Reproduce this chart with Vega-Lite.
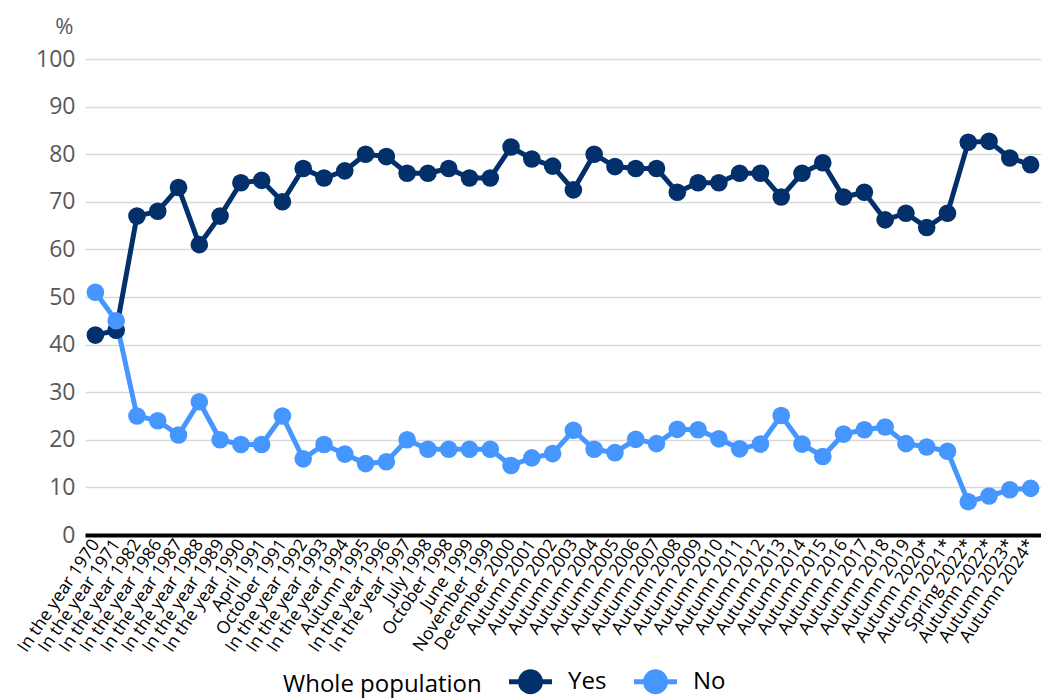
{
  "$schema": "https://vega.github.io/schema/vega-lite/v6.json",
  "width": 956,
  "height": 476,
  "autosize": {"type": "none"},
  "padding": {"left": 85, "top": 59, "right": 0, "bottom": 165},
  "background": "white",
  "config": {
    "font": "Open Sans",
    "view": {"stroke": null}
  },
  "data": {
    "values": [
      {"period": "In the year 1970", "answer": "Yes", "value": 42},
      {"period": "In the year 1971", "answer": "Yes", "value": 43},
      {"period": "In the year 1982", "answer": "Yes", "value": 67},
      {"period": "In the year 1986", "answer": "Yes", "value": 68},
      {"period": "In the year 1987", "answer": "Yes", "value": 73},
      {"period": "In the year 1988", "answer": "Yes", "value": 61},
      {"period": "In the year 1989", "answer": "Yes", "value": 67},
      {"period": "In the year 1990", "answer": "Yes", "value": 74},
      {"period": "April 1991", "answer": "Yes", "value": 74.5},
      {"period": "October 1991", "answer": "Yes", "value": 70},
      {"period": "In the year 1992", "answer": "Yes", "value": 77},
      {"period": "In the year 1993", "answer": "Yes", "value": 75},
      {"period": "In the year 1994", "answer": "Yes", "value": 76.5},
      {"period": "Autumn 1995", "answer": "Yes", "value": 80},
      {"period": "In the year 1996", "answer": "Yes", "value": 79.5},
      {"period": "In the year 1997", "answer": "Yes", "value": 76},
      {"period": "July 1998", "answer": "Yes", "value": 76},
      {"period": "October 1998", "answer": "Yes", "value": 77},
      {"period": "June 1999", "answer": "Yes", "value": 75},
      {"period": "November 1999", "answer": "Yes", "value": 75},
      {"period": "December 2000", "answer": "Yes", "value": 81.5},
      {"period": "Autumn 2001", "answer": "Yes", "value": 79},
      {"period": "Autumn 2002", "answer": "Yes", "value": 77.5},
      {"period": "Autumn 2003", "answer": "Yes", "value": 72.5},
      {"period": "Autumn 2004", "answer": "Yes", "value": 80},
      {"period": "Autumn 2005", "answer": "Yes", "value": 77.4},
      {"period": "Autumn 2006", "answer": "Yes", "value": 77},
      {"period": "Autumn 2007", "answer": "Yes", "value": 77},
      {"period": "Autumn 2008", "answer": "Yes", "value": 72},
      {"period": "Autumn 2009", "answer": "Yes", "value": 74},
      {"period": "Autumn 2010", "answer": "Yes", "value": 74},
      {"period": "Autumn 2011", "answer": "Yes", "value": 76},
      {"period": "Autumn 2012", "answer": "Yes", "value": 76},
      {"period": "Autumn 2013", "answer": "Yes", "value": 71},
      {"period": "Autumn 2014", "answer": "Yes", "value": 76},
      {"period": "Autumn 2015", "answer": "Yes", "value": 78.2},
      {"period": "Autumn 2016", "answer": "Yes", "value": 71},
      {"period": "Autumn 2017", "answer": "Yes", "value": 72},
      {"period": "Autumn 2018", "answer": "Yes", "value": 66.2},
      {"period": "Autumn 2019", "answer": "Yes", "value": 67.6},
      {"period": "Autumn 2020*", "answer": "Yes", "value": 64.6},
      {"period": "Autumn 2021*", "answer": "Yes", "value": 67.6},
      {"period": "Spring 2022*", "answer": "Yes", "value": 82.5},
      {"period": "Autumn 2022*", "answer": "Yes", "value": 82.7},
      {"period": "Autumn 2023*", "answer": "Yes", "value": 79.2},
      {"period": "Autumn 2024*", "answer": "Yes", "value": 77.8},
      {"period": "In the year 1970", "answer": "No", "value": 51},
      {"period": "In the year 1971", "answer": "No", "value": 45},
      {"period": "In the year 1982", "answer": "No", "value": 25},
      {"period": "In the year 1986", "answer": "No", "value": 24},
      {"period": "In the year 1987", "answer": "No", "value": 21},
      {"period": "In the year 1988", "answer": "No", "value": 28},
      {"period": "In the year 1989", "answer": "No", "value": 20},
      {"period": "In the year 1990", "answer": "No", "value": 19},
      {"period": "April 1991", "answer": "No", "value": 19},
      {"period": "October 1991", "answer": "No", "value": 25},
      {"period": "In the year 1992", "answer": "No", "value": 16},
      {"period": "In the year 1993", "answer": "No", "value": 19},
      {"period": "In the year 1994", "answer": "No", "value": 17},
      {"period": "Autumn 1995", "answer": "No", "value": 15},
      {"period": "In the year 1996", "answer": "No", "value": 15.4},
      {"period": "In the year 1997", "answer": "No", "value": 20},
      {"period": "July 1998", "answer": "No", "value": 18},
      {"period": "October 1998", "answer": "No", "value": 18},
      {"period": "June 1999", "answer": "No", "value": 18},
      {"period": "November 1999", "answer": "No", "value": 18},
      {"period": "December 2000", "answer": "No", "value": 14.6},
      {"period": "Autumn 2001", "answer": "No", "value": 16.2},
      {"period": "Autumn 2002", "answer": "No", "value": 17.1},
      {"period": "Autumn 2003", "answer": "No", "value": 22},
      {"period": "Autumn 2004", "answer": "No", "value": 18},
      {"period": "Autumn 2005", "answer": "No", "value": 17.3},
      {"period": "Autumn 2006", "answer": "No", "value": 20.1},
      {"period": "Autumn 2007", "answer": "No", "value": 19.2},
      {"period": "Autumn 2008", "answer": "No", "value": 22.2},
      {"period": "Autumn 2009", "answer": "No", "value": 22.1},
      {"period": "Autumn 2010", "answer": "No", "value": 20.2},
      {"period": "Autumn 2011", "answer": "No", "value": 18.1},
      {"period": "Autumn 2012", "answer": "No", "value": 19.1},
      {"period": "Autumn 2013", "answer": "No", "value": 25.1},
      {"period": "Autumn 2014", "answer": "No", "value": 19.1},
      {"period": "Autumn 2015", "answer": "No", "value": 16.5},
      {"period": "Autumn 2016", "answer": "No", "value": 21.2},
      {"period": "Autumn 2017", "answer": "No", "value": 22.1},
      {"period": "Autumn 2018", "answer": "No", "value": 22.7},
      {"period": "Autumn 2019", "answer": "No", "value": 19.2},
      {"period": "Autumn 2020*", "answer": "No", "value": 18.5},
      {"period": "Autumn 2021*", "answer": "No", "value": 17.6},
      {"period": "Spring 2022*", "answer": "No", "value": 7},
      {"period": "Autumn 2022*", "answer": "No", "value": 8.2},
      {"period": "Autumn 2023*", "answer": "No", "value": 9.5},
      {"period": "Autumn 2024*", "answer": "No", "value": 9.8}
    ]
  },
  "encoding": {
    "x": {
      "field": "period",
      "type": "nominal",
      "sort": null,
      "scale": {"type": "point", "padding": 0.5},
      "axis": {
        "title": null,
        "labelAngle": -56,
        "labelFontSize": 17.5,
        "labelColor": "black",
        "labelPadding": 6,
        "ticks": false,
        "domainColor": "black",
        "domainWidth": 4,
        "labelOverlap": false,
        "labelLimit": 300,
        "grid": false
      }
    },
    "y": {
      "field": "value",
      "type": "quantitative",
      "scale": {"domain": [0, 100]},
      "axis": {
        "title": "%",
        "titleAngle": 0,
        "titleAlign": "right",
        "titleBaseline": "alphabetic",
        "titleX": -12,
        "titleY": -26,
        "titleFontSize": 22,
        "titleFontWeight": "normal",
        "titleColor": "#595959",
        "values": [0, 10, 20, 30, 40, 50, 60, 70, 80, 90, 100],
        "labelFontSize": 23,
        "labelColor": "#595959",
        "labelPadding": 10,
        "domain": false,
        "ticks": false,
        "grid": true,
        "gridColor": "#d9d9d9",
        "gridWidth": 1.5
      }
    },
    "color": {
      "field": "answer",
      "type": "nominal",
      "scale": {"domain": ["Yes", "No"], "range": ["#03306b", "#4596ff"]},
      "legend": {
        "title": "Whole population",
        "orient": "none",
        "legendX": 198,
        "legendY": 609,
        "direction": "horizontal",
        "titleOrient": "left",
        "titleFontSize": 24,
        "titleFontWeight": "normal",
        "titleColor": "black",
        "titleLimit": 400,
        "titlePadding": 35,
        "labelFontSize": 24,
        "labelColor": "black",
        "labelOffset": 24,
        "columnPadding": 17,
        "symbolType": "M-2,0 L2,0 M-0.93,0 A0.93,0.93 0 1,0 0.93,0 A0.93,0.93 0 1,0 -0.93,0 Z",
        "symbolSize": 462,
        "symbolStrokeWidth": 5
      }
    }
  },
  "layer": [
    {"mark": {"type": "line", "strokeWidth": 5}},
    {"mark": {"type": "point", "filled": true, "size": 310, "opacity": 1}}
  ]
}
